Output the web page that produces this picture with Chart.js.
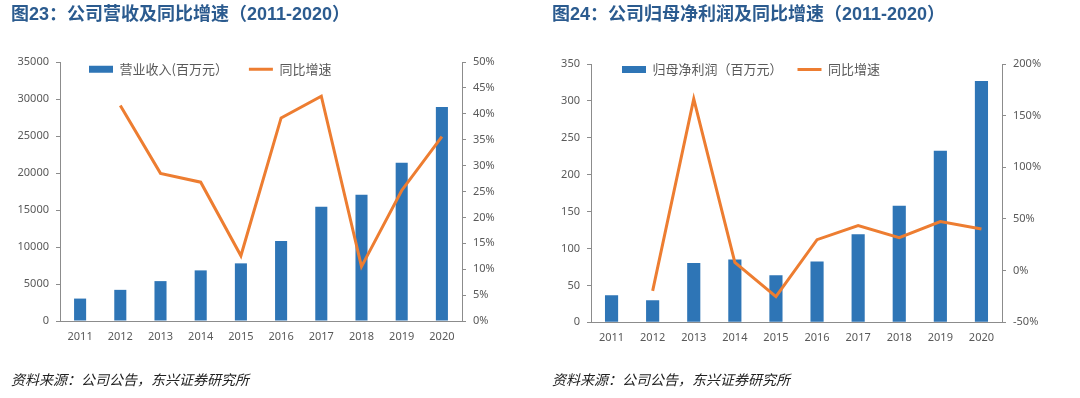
<!DOCTYPE html>
<html>
<head>
<meta charset="utf-8">
<script src="https://cdn.jsdelivr.net/npm/chart.js@4.4.1/dist/chart.umd.min.js"></script>
<style>
  body { margin: 0; background: #fff; }
  .box { position: absolute; top: 0; width: 540px; height: 398px; }
</style>
</head>
<body>
<div class="box" style="left:0"><canvas id="revenue-chart" width="540" height="398"></canvas></div>
<div class="box" style="left:540px"><canvas id="profit-chart" width="540" height="398"></canvas></div>
<script>
// data
const years = ['2011', '2012', '2013', '2014', '2015', '2016', '2017', '2018', '2019', '2020'];

const revenue = [3030, 4210, 5390, 6840, 7790, 10820, 15440, 17070, 21370, 28930];
const revenueGrowth = [null, 41.6, 28.5, 26.8, 12.6, 39.2, 43.4, 10.5, 25.2, 35.6];

const netProfit = [36.7, 29.9, 80.2, 85.2, 63.9, 82.5, 119.2, 157.8, 232.6, 326.9];
const profitGrowth = [null, -19.6, 166.3, 8.0, -25.1, 30.0, 43.6, 31.9, 47.5, 40.3];

const revenueTicks = [0, 5000, 10000, 15000, 20000, 25000, 30000, 35000];
const revenueGrowthTicks = [0, 5, 10, 15, 20, 25, 30, 35, 40, 45, 50];
const profitTicks = [0, 50, 100, 150, 200, 250, 300, 350];
const profitGrowthTicks = [-50, 0, 50, 100, 150, 200];

const source = '资料来源：公司公告，东兴证券研究所';

const BLUE = '#2E75B6';
const ORANGE = '#ED7D31';
const AXIS = '#8c8c8c';
const LABEL = '#595959';
const tickFont = { family: '"Noto Sans", sans-serif', size: 11 };

Chart.defaults.animation = false;
Chart.defaults.font.family = '"Noto Sans CJK SC", "Noto Sans", sans-serif';

// the report draws the legend inside the plot, just under its top edge
const legendSpot = {
  id: 'legendSpot',
  afterLayout(chart, args, opts) {
    const legend = chart.legend;
    if (!legend) return;
    const pad = legend.options.labels.padding;
    legend.left = chart.chartArea.left + opts.x - pad;
    legend.top = chart.chartArea.top + opts.y - 6.5 - pad;
    legend.right = chart.chartArea.right;
    legend.bottom = legend.top + 2 * pad + 20;
    legend.width = legend.right - legend.left;
    legend.height = legend.bottom - legend.top;
  }
};

function makeChart(id, s) {
  const ctx = document.getElementById(id).getContext('2d');
  return new Chart(ctx, {
    type: 'bar',
    data: {
      labels: years,
      datasets: [{
        type: 'bar',
        label: s.barLabel,
        data: s.bars,
        backgroundColor: BLUE,
        barPercentage: s.barPct,
        categoryPercentage: 1,
        yAxisID: 'y',
        order: 2
      }, {
        type: 'line',
        label: '同比增速',
        data: s.line,
        borderColor: ORANGE,
        borderWidth: 3,
        pointRadius: 0,
        tension: 0,
        yAxisID: 'y1',
        order: 1
      }]
    },
    options: {
      responsive: false,
      devicePixelRatio: 1,
      layout: { padding: { left: s.padLeft, right: 0, top: 0, bottom: 0 } },
      plugins: {
        title: {
          display: true,
          text: s.title,
          align: 'start',
          color: '#2B5B8F',
          font: { family: '"Liberation Sans", "Noto Sans CJK SC", sans-serif', size: 18, weight: 'bold' },
          padding: { top: 4, bottom: s.titleGap }
        },
        subtitle: {
          display: true,
          position: 'bottom',
          text: source,
          align: 'start',
          color: '#222',
          font: { family: '"Noto Sans CJK SC", sans-serif', size: 14, style: 'italic' },
          padding: { top: s.sourceGap, bottom: 9.6 }
        },
        legend: {
          position: 'top',
          align: 'start',
          maxHeight: 1,
          labels: {
            color: LABEL,
            font: { size: 13 },
            boxWidth: 24,
            boxHeight: 7,
            usePointStyle: true,
            pointStyleWidth: 24,
            padding: s.legendPad,
            generateLabels: () => [
              { text: s.barLabel, fillStyle: BLUE, strokeStyle: BLUE, lineWidth: 0, pointStyle: 'rect', datasetIndex: 0, hidden: false, fontColor: LABEL },
              { text: '同比增速', fillStyle: ORANGE, strokeStyle: ORANGE, lineWidth: 3, pointStyle: 'line', datasetIndex: 1, hidden: false, fontColor: LABEL }
            ]
          }
        },
        legendSpot: { x: s.legendX, y: s.legendY },
        tooltip: { enabled: false }
      },
      scales: {
        x: {
          grid: { display: false, drawTicks: false },
          border: { color: AXIS },
          ticks: { color: LABEL, font: tickFont, padding: 9, maxRotation: 0 }
        },
        y: {
          position: 'left',
          min: s.barTicks[0],
          max: s.barTicks[s.barTicks.length - 1],
          afterBuildTicks: (axis) => { axis.ticks = s.barTicks.map(v => ({ value: v })); },
          ticks: { color: LABEL, font: tickFont, padding: 7, callback: v => String(v) },
          grid: { drawOnChartArea: false, tickLength: 4, color: AXIS },
          border: { color: AXIS },
          afterFit: (axis) => { axis.width = s.leftWidth; }
        },
        y1: {
          position: 'right',
          min: s.lineTicks[0],
          max: s.lineTicks[s.lineTicks.length - 1],
          afterBuildTicks: (axis) => { axis.ticks = s.lineTicks.map(v => ({ value: v })); },
          ticks: { color: LABEL, font: tickFont, padding: 7, callback: v => v + '%' },
          grid: { drawOnChartArea: false, tickLength: 4, color: AXIS },
          border: { color: AXIS },
          afterFit: (axis) => { axis.width = 78; }
        }
      }
    },
    plugins: [legendSpot]
  });
}

const revenueChart = makeChart('revenue-chart', {
  title: '图23：公司营收及同比增速（2011-2020）',
  barLabel: '营业收入(百万元）',
  bars: revenue,
  line: revenueGrowth,
  barTicks: revenueTicks,
  lineTicks: revenueGrowthTicks,
  barPct: 0.3,
  padLeft: 11,
  leftWidth: 49,
  titleGap: 35.4,
  sourceGap: 19.4,
  legendPad: 21,
  legendX: 29,
  legendY: 7.3
});

const profitChart = makeChart('profit-chart', {
  title: '图24：公司归母净利润及同比增速（2011-2020）',
  barLabel: '归母净利润（百万元）',
  bars: netProfit,
  line: profitGrowth,
  barTicks: profitTicks,
  lineTicks: profitGrowthTicks,
  barPct: 0.32,
  padLeft: 12,
  leftWidth: 39,
  titleGap: 37.4,
  sourceGap: 18.1,
  legendPad: 15,
  legendX: 31,
  legendY: 5.5
});
</script>
</body>
</html>
